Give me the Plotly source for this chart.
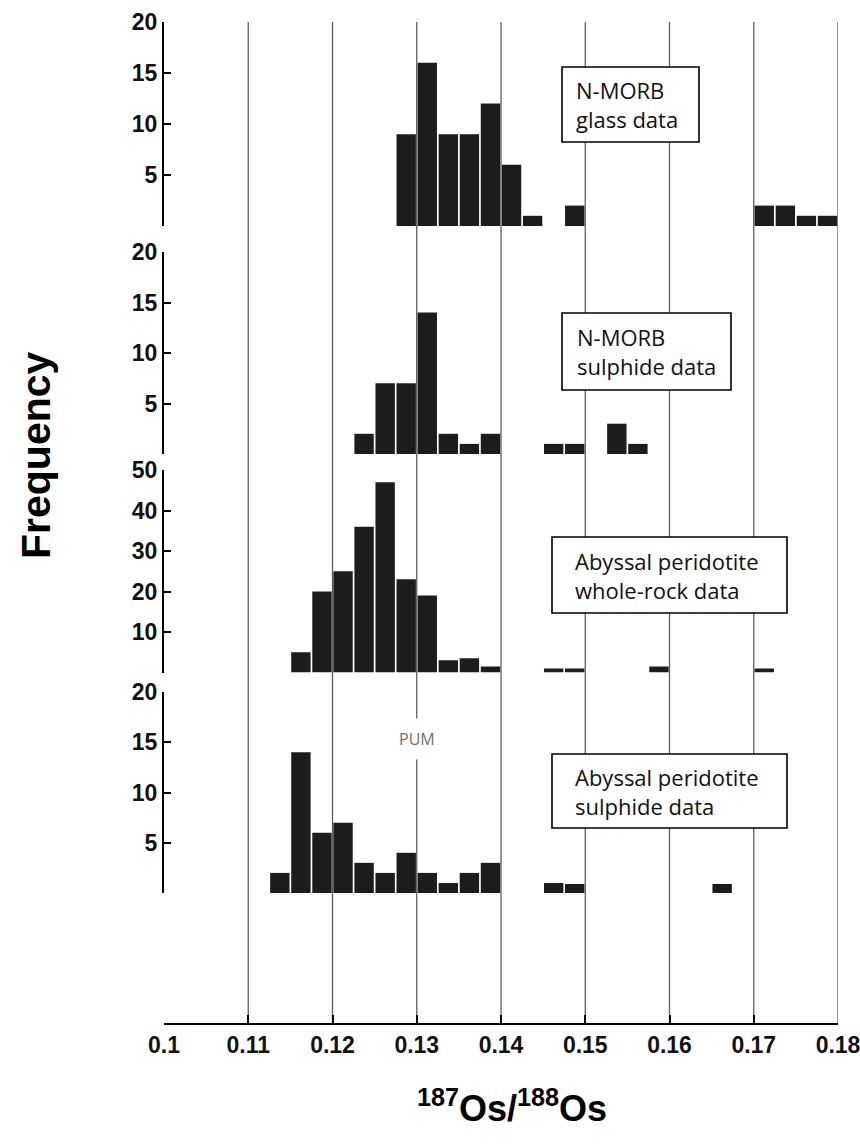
import plotly.graph_objects as go

# ---------------- data ----------------
x_ticks = [0.10, 0.11, 0.12, 0.13, 0.14, 0.15, 0.16, 0.17, 0.18]
x_ticktext = ["0.1", "0.11", "0.12", "0.13", "0.14", "0.15", "0.16", "0.17", "0.18"]

# N-MORB glass data (bin centres, counts)
glass_x = [0.12875, 0.13125, 0.13375, 0.13625, 0.13875, 0.14125, 0.14375, 0.14875,
           0.17125, 0.17375, 0.17625, 0.17875]
glass_y = [9, 16, 9, 9, 12, 6, 1, 2, 2, 2, 1, 1]

# N-MORB sulphide data
msul_x = [0.12375, 0.12625, 0.12875, 0.13125, 0.13375, 0.13625, 0.13875, 0.14625,
          0.14875, 0.15375, 0.15625]
msul_y = [2, 7, 7, 14, 2, 1, 2, 1, 1, 3, 1]

# Abyssal peridotite whole-rock data
wr_x = [0.11625, 0.11875, 0.12125, 0.12375, 0.12625, 0.12875, 0.13125, 0.13375,
        0.13625, 0.13875, 0.14625, 0.14875, 0.15875, 0.17125]
wr_y = [5, 20, 25, 36, 47, 23, 19, 3, 3.5, 1.5, 1, 1, 1.5, 1]

# Abyssal peridotite sulphide data
asul_x = [0.11375, 0.11625, 0.11875, 0.12125, 0.12375, 0.12625, 0.12875, 0.13125,
          0.13375, 0.13625, 0.13875, 0.14625, 0.14875, 0.16625]
asul_y = [2, 14, 6, 7, 3, 2, 4, 2, 1, 2, 3, 1, 0.9, 0.9]

bin_width = 0.0025

panel_labels = ["N-MORB<br>glass data", "N-MORB<br>sulphide data",
                "Abyssal peridotite<br>whole-rock data",
                "Abyssal peridotite<br>sulphide data"]
panel_ticks = [[5, 10, 15, 20], [5, 10, 15, 20],
               [10, 20, 30, 40, 50], [5, 10, 15, 20]]
panel_ranges = [[0, 20], [0, 20], [0, 50], [0, 20]]

# ---------------- layout helpers (reference pixel -> paper) ----------------
W, H = 860, 1146
AX_L, AX_R, AX_T, AX_B = 164, 838, 22, 1024      # plot area in pixels
L, T = AX_L, AX_T
R, B = W - AX_R, H - AX_B
PW, PH = AX_R - AX_L, AX_B - AX_T


def px_x(p):
    return (p - AX_L) / PW


def px_y(p):
    return (AX_B - p) / PH


domains = [[px_y(226), 1.0], [px_y(454), px_y(252)],
           [px_y(672.5), px_y(470)], [px_y(893), px_y(692)]]

tick_font = dict(family="Liberation Sans Narrow, Arial Narrow, Liberation Sans, sans-serif",
                 size=23, color="#111111", weight="bold")
box_font = dict(family="Open Sans, Noto Sans, sans-serif", size=22, color="#111111")

fig = go.Figure()
series = [(glass_x, glass_y), (msul_x, msul_y), (wr_x, wr_y), (asul_x, asul_y)]
for i, (xs, ys) in enumerate(series):
    fig.add_trace(go.Bar(
        x=xs, y=ys, width=bin_width * 0.92,
        marker=dict(color="#1c1c1e", line=dict(width=0)),
        xaxis="x", yaxis="y" if i == 0 else f"y{i + 1}",
        showlegend=False, hoverinfo="x+y"))

layout = dict(
    width=W, height=H,
    margin=dict(l=L, r=R, t=T, b=B, autoexpand=False),
    paper_bgcolor="white", plot_bgcolor="white",
    barmode="overlay", showlegend=False,
    xaxis=dict(range=[0.1, 0.18], domain=[0, 1], anchor="free", position=0,
               showline=True, linecolor="black", linewidth=2,
               ticks="inside", ticklen=8, tickwidth=2, tickcolor="black",
               tickvals=x_ticks, ticktext=x_ticktext, tickfont=tick_font,
               ticklabeloverflow="allow", showgrid=False, zeroline=False),
)
for i in range(4):
    key = "yaxis" if i == 0 else f"yaxis{i + 1}"
    tv = panel_ticks[i]
    layout[key] = dict(
        range=panel_ranges[i], domain=domains[i], anchor="x",
        showline=True, linecolor="black", linewidth=2,
        ticks="inside", ticklen=7, tickwidth=2, tickcolor="black",
        tickvals=tv, ticktext=[str(v) for v in tv],
        minor=dict(tickmode="array", tickvals=[0], ticks="inside", ticklen=7,
                   tickwidth=2, tickcolor="black", showgrid=False),
        tickfont=tick_font, showgrid=False, zeroline=False)
fig.update_layout(**layout)

# vertical grid lines at the x ticks
for v in x_ticks[1:]:
    fig.add_shape(type="line", xref="x", yref="paper", x0=v, x1=v, y0=0, y1=1,
                  line=dict(color="#5e5e5e", width=1.3), layer="below")

# label boxes (pixel positions)
boxes = [(562, 699, 67, 142, 574), (562, 731, 313, 390, 575),
         (552, 787, 537, 613, 573), (552, 787, 754, 828, 573)]
for (x0, x1, y0, y1, tx), txt in zip(boxes, panel_labels):
    fig.add_shape(type="rect", xref="paper", yref="paper",
                  x0=px_x(x0), x1=px_x(x1), y0=px_y(y1), y1=px_y(y0),
                  line=dict(color="black", width=1.6), fillcolor="white", layer="above")
    fig.add_annotation(xref="paper", yref="paper", x=px_x(tx), y=px_y((y0 + y1) / 2),
                       xanchor="left", yanchor="middle", align="left",
                       text=txt, showarrow=False, font=box_font)

# PUM label
fig.add_annotation(xref="x", yref="paper", x=0.13, y=px_y(739), text="PUM",
                   showarrow=False, font=dict(family="Open Sans, sans-serif", size=16,
                                               color="#707070"),
                   bgcolor="white", borderpad=9, xanchor="center", yanchor="middle")

# axis titles
fig.add_annotation(xref="paper", yref="paper", x=px_x(36), y=px_y(455),
                   text="Frequency", textangle=-90, showarrow=False,
                   font=dict(family="Liberation Sans, Arial, sans-serif", size=41,
                             color="black", weight="bold"),
                   xanchor="center", yanchor="middle")
fig.add_annotation(xref="paper", yref="paper", x=px_x(512), y=px_y(1106),
                   text="<sup>187</sup>Os/<sup>188</sup>Os", showarrow=False,
                   font=dict(family="Liberation Sans, Arial, sans-serif", size=36,
                             color="black", weight="bold"),
                   xanchor="center", yanchor="middle")

fig.write_html("out.html",
               config={"displayModeBar": False},
               post_script="document.body.style.margin='0px';"
                           "document.body.style.overflow='hidden';")
